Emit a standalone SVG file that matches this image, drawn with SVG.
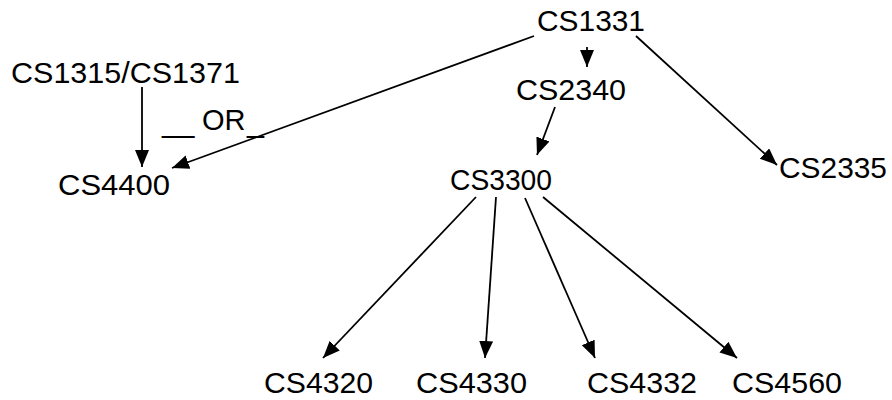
<svg xmlns="http://www.w3.org/2000/svg" width="892" height="400" viewBox="0 0 892 400">
<style>
text{font-family:"Liberation Sans",Arial,sans-serif;font-size:29px;fill:#000}
.c line{stroke:#000;stroke-width:1.8;marker-end:url(#ah)}
</style>
<defs>
<marker id="ah" markerUnits="userSpaceOnUse" markerWidth="18" markerHeight="15" refX="17" refY="7" orient="auto">
<path d="M0,0 L17,7 L0,14 z" fill="#000"/>
</marker>
</defs>
<rect width="892" height="400" fill="#fff"/>
<g id="n1331"><text x="537" y="31" textLength="108" lengthAdjust="spacingAndGlyphs">CS1331</text></g>
<g id="n1315"><text x="11" y="83" textLength="229" lengthAdjust="spacingAndGlyphs">CS1315/CS1371</text></g>
<g id="n2340"><text x="516" y="100" textLength="110" lengthAdjust="spacingAndGlyphs">CS2340</text></g>
<g id="n4400"><text x="58" y="195" textLength="112" lengthAdjust="spacingAndGlyphs">CS4400</text></g>
<g id="n3300"><text x="450" y="190" textLength="102" lengthAdjust="spacingAndGlyphs">CS3300</text></g>
<g id="n2335"><text x="779" y="178" textLength="108" lengthAdjust="spacingAndGlyphs">CS2335</text></g>
<g id="n4320"><text x="264" y="393" textLength="109" lengthAdjust="spacingAndGlyphs">CS4320</text></g>
<g id="n4330"><text x="416" y="393" textLength="111" lengthAdjust="spacingAndGlyphs">CS4330</text></g>
<g id="n4332"><text x="587" y="393" textLength="110" lengthAdjust="spacingAndGlyphs">CS4332</text></g>
<g id="n4560"><text x="732" y="393" textLength="110" lengthAdjust="spacingAndGlyphs">CS4560</text></g>
<g id="or">
<text><tspan x="162" y="132">__</tspan><tspan x="202" y="130">OR</tspan><tspan x="247" y="132" textLength="17" lengthAdjust="spacingAndGlyphs">_</tspan></text>
</g>
<g id="connectors" class="c">
<line x1="142" y1="87" x2="142" y2="167"/>
<line x1="534" y1="36" x2="172" y2="168"/>
<line x1="587" y1="47" x2="587" y2="67"/>
<line x1="636" y1="36" x2="777" y2="165"/>
<line x1="555" y1="107" x2="537" y2="155"/>
<line x1="476" y1="197" x2="323" y2="358"/>
<line x1="496" y1="197" x2="485" y2="358"/>
<line x1="525" y1="198" x2="595" y2="358"/>
<line x1="543" y1="197" x2="737" y2="358"/>
</g>
</svg>
